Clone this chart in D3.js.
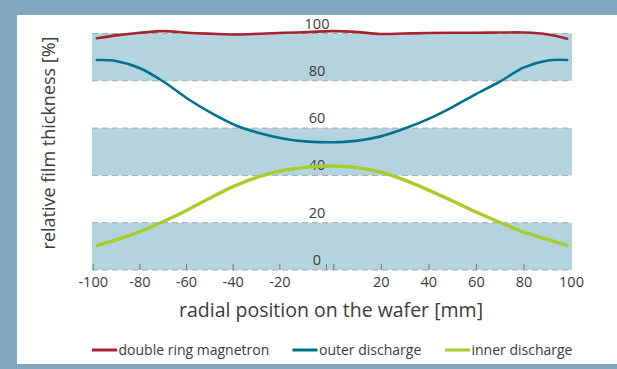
<!DOCTYPE html>
<html>
<head>
<meta charset="utf-8">
<script src="https://cdn.jsdelivr.net/npm/d3@7"></script>
<style>
  body { margin: 0; background: #fff; }
  svg { display: block; font-family: "Open Sans", "Noto Sans", sans-serif; }
</style>
</head>
<body>
<svg id="chart" width="617" height="369"></svg>
<script>
// data
const positions = [-98, -90, -80, -70, -60, -50, -40, -30, -20, -10, 0, 10, 20, 30, 40, 50, 60, 70, 80, 90, 98];
const doubleRing = [98.0, 99.2, 100.3, 101.0, 100.3, 99.9, 99.6, 99.9, 100.3, 100.6, 101.0, 100.7, 99.8, 100.0, 100.2, 100.3, 100.3, 100.4, 100.4, 99.6, 97.8];
const outerDischarge = [88.8, 88.4, 85.3, 79.5, 72.3, 66.2, 61.1, 57.8, 55.5, 54.3, 54.0, 54.6, 56.4, 59.7, 63.8, 68.8, 74.4, 79.7, 85.7, 88.6, 88.8];
const innerDischarge = [10.3, 12.7, 16.2, 20.6, 25.5, 30.9, 35.8, 39.6, 42.2, 43.5, 44.0, 43.4, 41.5, 38.1, 33.9, 29.3, 24.5, 20.1, 16.0, 12.8, 10.4];
const seriesNames = ['double ring magnetron', 'outer discharge', 'inner discharge'];
const seriesColors = ['#a8232f', '#00708f', '#a8cc2a'];
const yTicks = [0, 20, 40, 60, 80, 100];
const leftTicks = [-100, -80, -60, -40, -20, 0];
const rightTicks = [0, 20, 40, 60, 80, 100];
const bands = [[0, 20], [40, 60], [80, 100]];

const textColor = '#3b3b3b';
const frameColor = '#7fa7bd';
const bandColor = '#b3d4df';

const svg = d3.select('#chart');

// frame round the figure
svg.append('rect').attr('x', 0).attr('y', 0).attr('width', 617).attr('height', 15).attr('fill', frameColor);
svg.append('rect').attr('x', 0).attr('y', 0).attr('width', 17).attr('height', 369).attr('fill', frameColor);
svg.append('rect').attr('x', 0).attr('y', 364).attr('width', 617).attr('height', 5).attr('fill', frameColor);

// scales
const x = d3.scaleLinear().domain([-100, 100]).range([92, 572]);
const y = d3.scaleLinear().domain([0, 100]).range([270, 33.5]);
// the printed axis is split at 0 (two ticks there)
const xLeft = d3.scaleLinear().domain([-100, 0]).range([92.7, 326]);
const xRight = d3.scaleLinear().domain([0, 100]).range([333.3, 571]);

// shaded bands
svg.append('g').selectAll('rect')
    .data(bands)
    .enter().append('rect')
    .attr('x', x(-100))
    .attr('width', x(100) - x(-100))
    .attr('y', d => y(d[1]))
    .attr('height', d => y(d[0]) - y(d[1]))
    .attr('fill', bandColor);

// dashed grid lines
svg.append('g').selectAll('line')
    .data(yTicks)
    .enter().append('line')
    .attr('x1', x(-100)).attr('x2', x(100))
    .attr('y1', d => y(d)).attr('y2', d => y(d))
    .attr('stroke', '#a9a9a9')
    .attr('stroke-width', 1)
    .attr('stroke-dasharray', '6,4');

// y tick labels sit above each line, in the middle
svg.append('g').selectAll('text')
    .data(yTicks)
    .enter().append('text')
    .attr('x', 317)
    .attr('y', d => y(d) - 5)
    .attr('text-anchor', 'middle')
    .attr('font-size', 14.5)
    .attr('fill', textColor)
    .text(d => d);

// x axes
const drawAxis = (scale, ticks) => {
    const g = svg.append('g')
        .attr('transform', `translate(0,${y(0)})`)
        .call(d3.axisBottom(scale).tickValues(ticks).tickSize(-6).tickPadding(6.5).tickFormat(d => d));
    g.select('.domain').remove();
    g.selectAll('.tick line').attr('stroke', '#777');
    g.selectAll('.tick text')
        .attr('fill', textColor)
        .attr('font-size', 14.5)
        .style('font-family', '"Open Sans", "Noto Sans", sans-serif');
    g.selectAll('.tick').filter(d => d === 0).select('text').remove();
    g.selectAll('.tick').filter(d => d === 100).select('line').remove();
};
drawAxis(xLeft, leftTicks);
drawAxis(xRight, rightTicks);

// curves
const line = d3.line()
    .x((d, i) => x(positions[i]))
    .y(d => y(d))
    .curve(d3.curveCatmullRom.alpha(0.5));

const allSeries = [doubleRing, outerDischarge, innerDischarge];
const widths = [2.6, 2.6, 3.4];
allSeries.forEach((s, i) => {
    svg.append('path')
        .datum(s)
        .attr('d', line)
        .attr('fill', 'none')
        .attr('stroke', seriesColors[i])
        .attr('stroke-width', widths[i])
        .attr('stroke-linecap', 'round');
});

// axis titles
svg.append('text')
    .attr('transform', 'translate(55,143) rotate(-90)')
    .attr('text-anchor', 'middle')
    .attr('font-size', 18)
    .attr('fill', textColor)
    .text('relative film thickness [%]');

svg.append('text')
    .attr('x', 331)
    .attr('y', 317)
    .attr('text-anchor', 'middle')
    .attr('font-size', 19.5)
    .attr('fill', textColor)
    .text('radial position on the wafer [mm]');

// legend
const legendX = [92, 292.5, 445];
const legend = svg.append('g').selectAll('g')
    .data(seriesNames)
    .enter().append('g')
    .attr('transform', (d, i) => `translate(${legendX[i]},350)`);

legend.append('line')
    .attr('x1', 0).attr('x2', 25)
    .attr('y1', 0).attr('y2', 0)
    .attr('stroke', (d, i) => seriesColors[i])
    .attr('stroke-width', 3);

legend.append('text')
    .attr('x', 26.5)
    .attr('y', 4.5)
    .attr('font-size', 14)
    .attr('fill', textColor)
    .text(d => d);
</script>
</body>
</html>
